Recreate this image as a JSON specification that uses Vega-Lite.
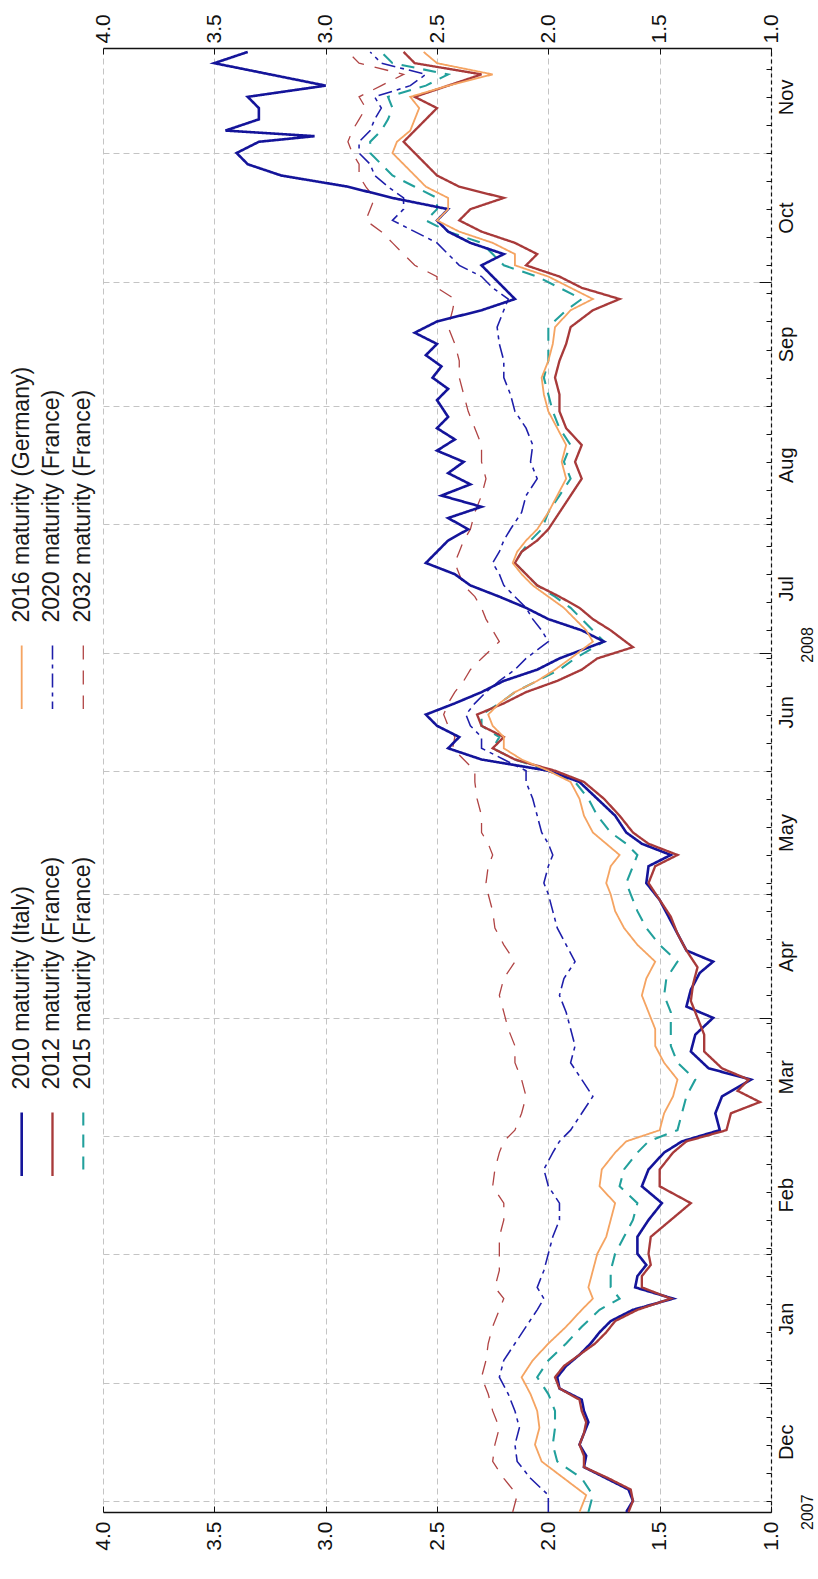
{
  "$schema": "https://vega.github.io/schema/vega-lite/v6.json",
  "padding": {"left": 0, "top": 13, "right": 0, "bottom": 0},
  "bounds": "flush",
  "spacing": 0,
  "config": {
    "font": "Liberation Sans",
    "view": {"stroke": null},
    "axis": {"labelFont": "Liberation Sans", "labelColor": "#111", "tickColor": "#111", "domainColor": "#111", "title": null}
  },
  "datasets": {
    "keys": [
      {"s": "I", "name": "2010 maturity (Italy)", "g": "lower", "slot": "1"},
      {"s": "F12", "name": "2012 maturity (France)", "g": "lower", "slot": "2"},
      {"s": "F15", "name": "2015 maturity (France)", "g": "lower", "slot": "3"},
      {"s": "G16", "name": "2016 maturity (Germany)", "g": "upper", "slot": "1"},
      {"s": "F20", "name": "2020 maturity (France)", "g": "upper", "slot": "2"},
      {"s": "F32", "name": "2032 maturity (France)", "g": "upper", "slot": "3"}
    ],
    "yields": [
      {"t":0,"s":"I","v":1.65},{"t":2,"s":"I","v":1.62},{"t":4,"s":"I","v":1.64},{"t":6,"s":"I","v":1.74},{"t":8,"s":"I","v":1.84},{"t":10,"s":"I","v":1.83},{"t":12,"s":"I","v":1.86},{"t":14,"s":"I","v":1.84},{"t":16,"s":"I","v":1.82},{"t":18,"s":"I","v":1.84},{"t":20,"s":"I","v":1.85},{"t":22,"s":"I","v":1.95},{"t":24,"s":"I","v":1.96},{"t":26,"s":"I","v":1.92},{"t":28,"s":"I","v":1.86},{"t":30,"s":"I","v":1.81},{"t":32,"s":"I","v":1.77},{"t":34,"s":"I","v":1.72},{"t":36,"s":"I","v":1.62},{"t":38,"s":"I","v":1.44},{"t":40,"s":"I","v":1.61},{"t":42,"s":"I","v":1.6},{"t":44,"s":"I","v":1.56},{"t":46,"s":"I","v":1.6},{"t":49,"s":"I","v":1.6},{"t":52,"s":"I","v":1.55},{"t":55,"s":"I","v":1.49},{"t":58,"s":"I","v":1.58},{"t":61,"s":"I","v":1.55},{"t":64,"s":"I","v":1.48},{"t":66,"s":"I","v":1.4},{"t":68,"s":"I","v":1.23},{"t":71,"s":"I","v":1.25},{"t":74,"s":"I","v":1.22},{"t":77,"s":"I","v":1.09},{"t":79,"s":"I","v":1.28},{"t":82,"s":"I","v":1.36},{"t":85,"s":"I","v":1.34},{"t":88,"s":"I","v":1.26},{"t":90,"s":"I","v":1.38},{"t":93,"s":"I","v":1.36},{"t":96,"s":"I","v":1.32},{"t":98,"s":"I","v":1.26},{"t":100,"s":"I","v":1.38},{"t":103,"s":"I","v":1.42},{"t":106,"s":"I","v":1.46},{"t":109,"s":"I","v":1.5},{"t":112,"s":"I","v":1.56},{"t":115,"s":"I","v":1.55},{"t":117,"s":"I","v":1.45},{"t":119,"s":"I","v":1.58},{"t":121,"s":"I","v":1.65},{"t":124,"s":"I","v":1.7},{"t":127,"s":"I","v":1.78},{"t":130,"s":"I","v":1.86},{"t":132,"s":"I","v":2.0},{"t":134,"s":"I","v":2.3},{"t":136,"s":"I","v":2.45},{"t":138,"s":"I","v":2.4},{"t":140,"s":"I","v":2.5},{"t":142,"s":"I","v":2.55},{"t":144,"s":"I","v":2.42},{"t":146,"s":"I","v":2.3},{"t":148,"s":"I","v":2.2},{"t":150,"s":"I","v":2.05},{"t":152,"s":"I","v":1.95},{"t":155,"s":"I","v":1.75},{"t":157,"s":"I","v":1.85},{"t":159,"s":"I","v":2.0},{"t":161,"s":"I","v":2.1},{"t":163,"s":"I","v":2.22},{"t":165,"s":"I","v":2.35},{"t":167,"s":"I","v":2.42},{"t":169,"s":"I","v":2.55},{"t":171,"s":"I","v":2.5},{"t":173,"s":"I","v":2.45},{"t":175,"s":"I","v":2.36},{"t":177,"s":"I","v":2.45},{"t":179,"s":"I","v":2.3},{"t":181,"s":"I","v":2.48},{"t":183,"s":"I","v":2.35},{"t":185,"s":"I","v":2.45},{"t":187,"s":"I","v":2.38},{"t":189,"s":"I","v":2.5},{"t":191,"s":"I","v":2.42},{"t":193,"s":"I","v":2.5},{"t":195,"s":"I","v":2.45},{"t":198,"s":"I","v":2.5},{"t":200,"s":"I","v":2.45},{"t":202,"s":"I","v":2.52},{"t":204,"s":"I","v":2.48},{"t":206,"s":"I","v":2.55},{"t":208,"s":"I","v":2.5},{"t":210,"s":"I","v":2.6},{"t":212,"s":"I","v":2.5},{"t":214,"s":"I","v":2.3},{"t":216,"s":"I","v":2.15},{"t":218,"s":"I","v":2.2},{"t":220,"s":"I","v":2.25},{"t":222,"s":"I","v":2.3},{"t":224,"s":"I","v":2.2},{"t":226,"s":"I","v":2.35},{"t":228,"s":"I","v":2.45},{"t":230,"s":"I","v":2.5},{"t":232,"s":"I","v":2.45},{"t":234,"s":"I","v":2.7},{"t":236,"s":"I","v":2.9},{"t":238,"s":"I","v":3.2},{"t":240,"s":"I","v":3.35},{"t":242,"s":"I","v":3.4},{"t":244,"s":"I","v":3.3},{"t":245,"s":"I","v":3.05},{"t":246,"s":"I","v":3.45},{"t":248,"s":"I","v":3.3},{"t":250,"s":"I","v":3.3},{"t":252,"s":"I","v":3.35},{"t":254,"s":"I","v":3.0},{"t":256,"s":"I","v":3.25},{"t":258,"s":"I","v":3.5},{"t":260,"s":"I","v":3.35},

      {"t":0,"s":"F12","v":1.64},{"t":2,"s":"F12","v":1.62},{"t":4,"s":"F12","v":1.63},{"t":6,"s":"F12","v":1.73},{"t":8,"s":"F12","v":1.84},{"t":10,"s":"F12","v":1.84},{"t":12,"s":"F12","v":1.86},{"t":14,"s":"F12","v":1.84},{"t":16,"s":"F12","v":1.83},{"t":18,"s":"F12","v":1.85},{"t":20,"s":"F12","v":1.86},{"t":22,"s":"F12","v":1.95},{"t":24,"s":"F12","v":1.97},{"t":26,"s":"F12","v":1.93},{"t":28,"s":"F12","v":1.86},{"t":30,"s":"F12","v":1.79},{"t":32,"s":"F12","v":1.74},{"t":34,"s":"F12","v":1.7},{"t":36,"s":"F12","v":1.6},{"t":38,"s":"F12","v":1.45},{"t":40,"s":"F12","v":1.58},{"t":42,"s":"F12","v":1.58},{"t":44,"s":"F12","v":1.54},{"t":46,"s":"F12","v":1.55},{"t":49,"s":"F12","v":1.54},{"t":52,"s":"F12","v":1.45},{"t":55,"s":"F12","v":1.36},{"t":58,"s":"F12","v":1.5},{"t":61,"s":"F12","v":1.5},{"t":64,"s":"F12","v":1.44},{"t":66,"s":"F12","v":1.38},{"t":68,"s":"F12","v":1.2},{"t":71,"s":"F12","v":1.18},{"t":73,"s":"F12","v":1.05},{"t":75,"s":"F12","v":1.15},{"t":77,"s":"F12","v":1.1},{"t":79,"s":"F12","v":1.22},{"t":82,"s":"F12","v":1.3},{"t":85,"s":"F12","v":1.3},{"t":88,"s":"F12","v":1.33},{"t":91,"s":"F12","v":1.36},{"t":94,"s":"F12","v":1.35},{"t":97,"s":"F12","v":1.33},{"t":100,"s":"F12","v":1.38},{"t":103,"s":"F12","v":1.42},{"t":106,"s":"F12","v":1.45},{"t":109,"s":"F12","v":1.5},{"t":112,"s":"F12","v":1.55},{"t":115,"s":"F12","v":1.52},{"t":117,"s":"F12","v":1.42},{"t":119,"s":"F12","v":1.55},{"t":121,"s":"F12","v":1.62},{"t":124,"s":"F12","v":1.68},{"t":127,"s":"F12","v":1.75},{"t":130,"s":"F12","v":1.84},{"t":132,"s":"F12","v":1.97},{"t":134,"s":"F12","v":2.15},{"t":136,"s":"F12","v":2.25},{"t":138,"s":"F12","v":2.2},{"t":140,"s":"F12","v":2.3},{"t":142,"s":"F12","v":2.32},{"t":144,"s":"F12","v":2.2},{"t":146,"s":"F12","v":2.1},{"t":148,"s":"F12","v":1.96},{"t":150,"s":"F12","v":1.85},{"t":152,"s":"F12","v":1.78},{"t":154,"s":"F12","v":1.62},{"t":157,"s":"F12","v":1.72},{"t":159,"s":"F12","v":1.8},{"t":161,"s":"F12","v":1.86},{"t":163,"s":"F12","v":1.95},{"t":165,"s":"F12","v":2.05},{"t":167,"s":"F12","v":2.1},{"t":169,"s":"F12","v":2.15},{"t":171,"s":"F12","v":2.12},{"t":173,"s":"F12","v":2.05},{"t":175,"s":"F12","v":2.0},{"t":178,"s":"F12","v":1.95},{"t":181,"s":"F12","v":1.9},{"t":184,"s":"F12","v":1.85},{"t":187,"s":"F12","v":1.88},{"t":190,"s":"F12","v":1.85},{"t":193,"s":"F12","v":1.92},{"t":196,"s":"F12","v":1.95},{"t":199,"s":"F12","v":1.95},{"t":202,"s":"F12","v":1.97},{"t":205,"s":"F12","v":1.95},{"t":208,"s":"F12","v":1.92},{"t":211,"s":"F12","v":1.9},{"t":214,"s":"F12","v":1.8},{"t":216,"s":"F12","v":1.68},{"t":218,"s":"F12","v":1.85},{"t":220,"s":"F12","v":1.95},{"t":222,"s":"F12","v":2.1},{"t":224,"s":"F12","v":2.05},{"t":226,"s":"F12","v":2.15},{"t":228,"s":"F12","v":2.3},{"t":230,"s":"F12","v":2.4},{"t":232,"s":"F12","v":2.35},{"t":234,"s":"F12","v":2.2},{"t":236,"s":"F12","v":2.4},{"t":238,"s":"F12","v":2.5},{"t":240,"s":"F12","v":2.55},{"t":242,"s":"F12","v":2.6},{"t":244,"s":"F12","v":2.65},{"t":246,"s":"F12","v":2.6},{"t":248,"s":"F12","v":2.55},{"t":250,"s":"F12","v":2.5},{"t":252,"s":"F12","v":2.6},{"t":254,"s":"F12","v":2.45},{"t":256,"s":"F12","v":2.3},{"t":258,"s":"F12","v":2.6},{"t":260,"s":"F12","v":2.65},

      {"t":0,"s":"F15","v":1.82},{"t":3,"s":"F15","v":1.8},{"t":6,"s":"F15","v":1.85},{"t":9,"s":"F15","v":1.96},{"t":12,"s":"F15","v":1.98},{"t":15,"s":"F15","v":1.97},{"t":18,"s":"F15","v":1.97},{"t":21,"s":"F15","v":2.0},{"t":24,"s":"F15","v":2.05},{"t":27,"s":"F15","v":2.0},{"t":30,"s":"F15","v":1.92},{"t":33,"s":"F15","v":1.85},{"t":36,"s":"F15","v":1.77},{"t":38,"s":"F15","v":1.68},{"t":40,"s":"F15","v":1.72},{"t":43,"s":"F15","v":1.72},{"t":46,"s":"F15","v":1.7},{"t":49,"s":"F15","v":1.66},{"t":52,"s":"F15","v":1.62},{"t":55,"s":"F15","v":1.6},{"t":58,"s":"F15","v":1.68},{"t":61,"s":"F15","v":1.66},{"t":64,"s":"F15","v":1.6},{"t":66,"s":"F15","v":1.55},{"t":68,"s":"F15","v":1.42},{"t":71,"s":"F15","v":1.4},{"t":74,"s":"F15","v":1.38},{"t":77,"s":"F15","v":1.34},{"t":80,"s":"F15","v":1.42},{"t":83,"s":"F15","v":1.45},{"t":86,"s":"F15","v":1.45},{"t":89,"s":"F15","v":1.45},{"t":92,"s":"F15","v":1.48},{"t":95,"s":"F15","v":1.47},{"t":98,"s":"F15","v":1.42},{"t":101,"s":"F15","v":1.5},{"t":104,"s":"F15","v":1.56},{"t":107,"s":"F15","v":1.6},{"t":110,"s":"F15","v":1.63},{"t":112,"s":"F15","v":1.65},{"t":115,"s":"F15","v":1.62},{"t":117,"s":"F15","v":1.6},{"t":119,"s":"F15","v":1.65},{"t":121,"s":"F15","v":1.72},{"t":124,"s":"F15","v":1.78},{"t":127,"s":"F15","v":1.82},{"t":130,"s":"F15","v":1.88},{"t":132,"s":"F15","v":2.0},{"t":134,"s":"F15","v":2.15},{"t":136,"s":"F15","v":2.25},{"t":138,"s":"F15","v":2.22},{"t":140,"s":"F15","v":2.3},{"t":142,"s":"F15","v":2.3},{"t":144,"s":"F15","v":2.22},{"t":146,"s":"F15","v":2.15},{"t":148,"s":"F15","v":2.05},{"t":150,"s":"F15","v":1.95},{"t":152,"s":"F15","v":1.88},{"t":155,"s":"F15","v":1.75},{"t":157,"s":"F15","v":1.8},{"t":159,"s":"F15","v":1.85},{"t":161,"s":"F15","v":1.9},{"t":163,"s":"F15","v":1.97},{"t":165,"s":"F15","v":2.05},{"t":167,"s":"F15","v":2.1},{"t":169,"s":"F15","v":2.15},{"t":171,"s":"F15","v":2.12},{"t":173,"s":"F15","v":2.08},{"t":175,"s":"F15","v":2.03},{"t":178,"s":"F15","v":2.0},{"t":181,"s":"F15","v":1.95},{"t":184,"s":"F15","v":1.9},{"t":187,"s":"F15","v":1.93},{"t":190,"s":"F15","v":1.9},{"t":193,"s":"F15","v":1.95},{"t":196,"s":"F15","v":1.98},{"t":199,"s":"F15","v":2.0},{"t":202,"s":"F15","v":2.02},{"t":205,"s":"F15","v":2.0},{"t":208,"s":"F15","v":2.0},{"t":211,"s":"F15","v":2.0},{"t":214,"s":"F15","v":1.92},{"t":216,"s":"F15","v":1.85},{"t":218,"s":"F15","v":1.95},{"t":220,"s":"F15","v":2.05},{"t":222,"s":"F15","v":2.2},{"t":224,"s":"F15","v":2.25},{"t":226,"s":"F15","v":2.3},{"t":228,"s":"F15","v":2.45},{"t":230,"s":"F15","v":2.55},{"t":232,"s":"F15","v":2.5},{"t":234,"s":"F15","v":2.5},{"t":236,"s":"F15","v":2.6},{"t":238,"s":"F15","v":2.7},{"t":240,"s":"F15","v":2.75},{"t":242,"s":"F15","v":2.8},{"t":244,"s":"F15","v":2.8},{"t":246,"s":"F15","v":2.75},{"t":248,"s":"F15","v":2.72},{"t":250,"s":"F15","v":2.7},{"t":252,"s":"F15","v":2.72},{"t":254,"s":"F15","v":2.55},{"t":256,"s":"F15","v":2.45},{"t":258,"s":"F15","v":2.7},{"t":260,"s":"F15","v":2.75},

      {"t":0,"s":"G16","v":1.86},{"t":3,"s":"G16","v":1.83},{"t":6,"s":"G16","v":1.93},{"t":9,"s":"G16","v":2.03},{"t":12,"s":"G16","v":2.06},{"t":15,"s":"G16","v":2.04},{"t":18,"s":"G16","v":2.05},{"t":21,"s":"G16","v":2.08},{"t":24,"s":"G16","v":2.12},{"t":27,"s":"G16","v":2.07},{"t":30,"s":"G16","v":2.0},{"t":33,"s":"G16","v":1.92},{"t":36,"s":"G16","v":1.85},{"t":38,"s":"G16","v":1.8},{"t":40,"s":"G16","v":1.82},{"t":43,"s":"G16","v":1.8},{"t":46,"s":"G16","v":1.78},{"t":49,"s":"G16","v":1.74},{"t":52,"s":"G16","v":1.72},{"t":55,"s":"G16","v":1.7},{"t":58,"s":"G16","v":1.77},{"t":61,"s":"G16","v":1.76},{"t":64,"s":"G16","v":1.7},{"t":66,"s":"G16","v":1.65},{"t":68,"s":"G16","v":1.5},{"t":71,"s":"G16","v":1.48},{"t":74,"s":"G16","v":1.44},{"t":77,"s":"G16","v":1.42},{"t":80,"s":"G16","v":1.48},{"t":83,"s":"G16","v":1.52},{"t":86,"s":"G16","v":1.52},{"t":89,"s":"G16","v":1.55},{"t":92,"s":"G16","v":1.58},{"t":95,"s":"G16","v":1.56},{"t":98,"s":"G16","v":1.52},{"t":101,"s":"G16","v":1.6},{"t":104,"s":"G16","v":1.66},{"t":107,"s":"G16","v":1.7},{"t":110,"s":"G16","v":1.72},{"t":112,"s":"G16","v":1.74},{"t":115,"s":"G16","v":1.72},{"t":117,"s":"G16","v":1.68},{"t":119,"s":"G16","v":1.74},{"t":121,"s":"G16","v":1.8},{"t":124,"s":"G16","v":1.84},{"t":127,"s":"G16","v":1.86},{"t":130,"s":"G16","v":1.9},{"t":132,"s":"G16","v":2.0},{"t":134,"s":"G16","v":2.12},{"t":136,"s":"G16","v":2.2},{"t":138,"s":"G16","v":2.2},{"t":140,"s":"G16","v":2.25},{"t":142,"s":"G16","v":2.27},{"t":144,"s":"G16","v":2.22},{"t":146,"s":"G16","v":2.15},{"t":148,"s":"G16","v":2.05},{"t":150,"s":"G16","v":1.97},{"t":152,"s":"G16","v":1.9},{"t":155,"s":"G16","v":1.8},{"t":157,"s":"G16","v":1.83},{"t":159,"s":"G16","v":1.88},{"t":161,"s":"G16","v":1.93},{"t":163,"s":"G16","v":2.0},{"t":165,"s":"G16","v":2.07},{"t":167,"s":"G16","v":2.12},{"t":169,"s":"G16","v":2.16},{"t":171,"s":"G16","v":2.14},{"t":173,"s":"G16","v":2.1},{"t":175,"s":"G16","v":2.05},{"t":178,"s":"G16","v":2.0},{"t":181,"s":"G16","v":1.96},{"t":184,"s":"G16","v":1.92},{"t":187,"s":"G16","v":1.94},{"t":190,"s":"G16","v":1.92},{"t":193,"s":"G16","v":1.96},{"t":196,"s":"G16","v":2.0},{"t":199,"s":"G16","v":2.02},{"t":202,"s":"G16","v":2.03},{"t":205,"s":"G16","v":2.0},{"t":208,"s":"G16","v":1.98},{"t":211,"s":"G16","v":1.97},{"t":214,"s":"G16","v":1.9},{"t":216,"s":"G16","v":1.8},{"t":218,"s":"G16","v":1.9},{"t":220,"s":"G16","v":2.0},{"t":222,"s":"G16","v":2.15},{"t":224,"s":"G16","v":2.15},{"t":226,"s":"G16","v":2.25},{"t":228,"s":"G16","v":2.4},{"t":230,"s":"G16","v":2.5},{"t":232,"s":"G16","v":2.45},{"t":234,"s":"G16","v":2.45},{"t":236,"s":"G16","v":2.55},{"t":238,"s":"G16","v":2.6},{"t":240,"s":"G16","v":2.65},{"t":242,"s":"G16","v":2.7},{"t":244,"s":"G16","v":2.68},{"t":246,"s":"G16","v":2.62},{"t":248,"s":"G16","v":2.6},{"t":250,"s":"G16","v":2.58},{"t":252,"s":"G16","v":2.62},{"t":254,"s":"G16","v":2.45},{"t":256,"s":"G16","v":2.25},{"t":258,"s":"G16","v":2.5},{"t":260,"s":"G16","v":2.56},

      {"t":0,"s":"F20","v":2.0},{"t":3,"s":"F20","v":2.0},{"t":6,"s":"F20","v":2.08},{"t":9,"s":"F20","v":2.14},{"t":12,"s":"F20","v":2.15},{"t":15,"s":"F20","v":2.13},{"t":18,"s":"F20","v":2.15},{"t":21,"s":"F20","v":2.18},{"t":24,"s":"F20","v":2.22},{"t":27,"s":"F20","v":2.2},{"t":30,"s":"F20","v":2.15},{"t":33,"s":"F20","v":2.1},{"t":36,"s":"F20","v":2.05},{"t":38,"s":"F20","v":2.02},{"t":40,"s":"F20","v":2.05},{"t":43,"s":"F20","v":2.02},{"t":46,"s":"F20","v":2.0},{"t":49,"s":"F20","v":1.98},{"t":52,"s":"F20","v":1.95},{"t":55,"s":"F20","v":1.95},{"t":58,"s":"F20","v":2.0},{"t":61,"s":"F20","v":2.02},{"t":64,"s":"F20","v":1.98},{"t":66,"s":"F20","v":1.95},{"t":68,"s":"F20","v":1.9},{"t":71,"s":"F20","v":1.85},{"t":74,"s":"F20","v":1.8},{"t":77,"s":"F20","v":1.85},{"t":80,"s":"F20","v":1.9},{"t":83,"s":"F20","v":1.88},{"t":86,"s":"F20","v":1.9},{"t":89,"s":"F20","v":1.92},{"t":92,"s":"F20","v":1.95},{"t":95,"s":"F20","v":1.93},{"t":98,"s":"F20","v":1.88},{"t":101,"s":"F20","v":1.92},{"t":104,"s":"F20","v":1.96},{"t":107,"s":"F20","v":1.98},{"t":110,"s":"F20","v":2.0},{"t":112,"s":"F20","v":2.02},{"t":115,"s":"F20","v":2.0},{"t":117,"s":"F20","v":1.98},{"t":119,"s":"F20","v":2.0},{"t":121,"s":"F20","v":2.03},{"t":124,"s":"F20","v":2.05},{"t":127,"s":"F20","v":2.07},{"t":130,"s":"F20","v":2.1},{"t":132,"s":"F20","v":2.1},{"t":134,"s":"F20","v":2.2},{"t":136,"s":"F20","v":2.3},{"t":138,"s":"F20","v":2.3},{"t":140,"s":"F20","v":2.35},{"t":142,"s":"F20","v":2.37},{"t":144,"s":"F20","v":2.33},{"t":146,"s":"F20","v":2.28},{"t":148,"s":"F20","v":2.22},{"t":150,"s":"F20","v":2.15},{"t":152,"s":"F20","v":2.1},{"t":155,"s":"F20","v":2.0},{"t":157,"s":"F20","v":2.03},{"t":159,"s":"F20","v":2.07},{"t":161,"s":"F20","v":2.1},{"t":163,"s":"F20","v":2.15},{"t":165,"s":"F20","v":2.2},{"t":167,"s":"F20","v":2.22},{"t":169,"s":"F20","v":2.25},{"t":171,"s":"F20","v":2.22},{"t":173,"s":"F20","v":2.2},{"t":175,"s":"F20","v":2.17},{"t":178,"s":"F20","v":2.12},{"t":181,"s":"F20","v":2.1},{"t":184,"s":"F20","v":2.05},{"t":187,"s":"F20","v":2.08},{"t":190,"s":"F20","v":2.07},{"t":193,"s":"F20","v":2.1},{"t":196,"s":"F20","v":2.15},{"t":199,"s":"F20","v":2.17},{"t":202,"s":"F20","v":2.2},{"t":205,"s":"F20","v":2.2},{"t":208,"s":"F20","v":2.22},{"t":211,"s":"F20","v":2.23},{"t":214,"s":"F20","v":2.2},{"t":216,"s":"F20","v":2.18},{"t":218,"s":"F20","v":2.25},{"t":220,"s":"F20","v":2.3},{"t":222,"s":"F20","v":2.4},{"t":224,"s":"F20","v":2.45},{"t":226,"s":"F20","v":2.5},{"t":228,"s":"F20","v":2.6},{"t":230,"s":"F20","v":2.7},{"t":232,"s":"F20","v":2.65},{"t":234,"s":"F20","v":2.65},{"t":236,"s":"F20","v":2.72},{"t":238,"s":"F20","v":2.78},{"t":240,"s":"F20","v":2.8},{"t":242,"s":"F20","v":2.85},{"t":244,"s":"F20","v":2.85},{"t":246,"s":"F20","v":2.8},{"t":248,"s":"F20","v":2.78},{"t":250,"s":"F20","v":2.75},{"t":252,"s":"F20","v":2.78},{"t":254,"s":"F20","v":2.62},{"t":256,"s":"F20","v":2.55},{"t":258,"s":"F20","v":2.75},{"t":260,"s":"F20","v":2.8},

      {"t":0,"s":"F32","v":2.16},{"t":3,"s":"F32","v":2.14},{"t":6,"s":"F32","v":2.2},{"t":9,"s":"F32","v":2.25},{"t":12,"s":"F32","v":2.24},{"t":15,"s":"F32","v":2.22},{"t":18,"s":"F32","v":2.25},{"t":21,"s":"F32","v":2.27},{"t":24,"s":"F32","v":2.3},{"t":27,"s":"F32","v":2.28},{"t":30,"s":"F32","v":2.27},{"t":33,"s":"F32","v":2.25},{"t":36,"s":"F32","v":2.22},{"t":38,"s":"F32","v":2.2},{"t":40,"s":"F32","v":2.24},{"t":43,"s":"F32","v":2.22},{"t":46,"s":"F32","v":2.22},{"t":49,"s":"F32","v":2.22},{"t":52,"s":"F32","v":2.2},{"t":55,"s":"F32","v":2.2},{"t":58,"s":"F32","v":2.25},{"t":61,"s":"F32","v":2.24},{"t":64,"s":"F32","v":2.22},{"t":66,"s":"F32","v":2.2},{"t":68,"s":"F32","v":2.15},{"t":71,"s":"F32","v":2.12},{"t":74,"s":"F32","v":2.1},{"t":77,"s":"F32","v":2.12},{"t":80,"s":"F32","v":2.15},{"t":83,"s":"F32","v":2.15},{"t":86,"s":"F32","v":2.18},{"t":89,"s":"F32","v":2.2},{"t":92,"s":"F32","v":2.22},{"t":95,"s":"F32","v":2.2},{"t":98,"s":"F32","v":2.15},{"t":101,"s":"F32","v":2.2},{"t":104,"s":"F32","v":2.24},{"t":107,"s":"F32","v":2.25},{"t":110,"s":"F32","v":2.27},{"t":112,"s":"F32","v":2.28},{"t":115,"s":"F32","v":2.27},{"t":117,"s":"F32","v":2.25},{"t":119,"s":"F32","v":2.27},{"t":121,"s":"F32","v":2.3},{"t":124,"s":"F32","v":2.3},{"t":127,"s":"F32","v":2.32},{"t":130,"s":"F32","v":2.33},{"t":132,"s":"F32","v":2.33},{"t":134,"s":"F32","v":2.38},{"t":136,"s":"F32","v":2.43},{"t":138,"s":"F32","v":2.42},{"t":140,"s":"F32","v":2.45},{"t":142,"s":"F32","v":2.47},{"t":144,"s":"F32","v":2.45},{"t":146,"s":"F32","v":2.42},{"t":148,"s":"F32","v":2.38},{"t":150,"s":"F32","v":2.35},{"t":152,"s":"F32","v":2.3},{"t":155,"s":"F32","v":2.22},{"t":157,"s":"F32","v":2.25},{"t":159,"s":"F32","v":2.28},{"t":161,"s":"F32","v":2.3},{"t":163,"s":"F32","v":2.33},{"t":165,"s":"F32","v":2.38},{"t":167,"s":"F32","v":2.4},{"t":169,"s":"F32","v":2.42},{"t":171,"s":"F32","v":2.4},{"t":173,"s":"F32","v":2.38},{"t":175,"s":"F32","v":2.35},{"t":178,"s":"F32","v":2.33},{"t":181,"s":"F32","v":2.3},{"t":184,"s":"F32","v":2.28},{"t":187,"s":"F32","v":2.3},{"t":190,"s":"F32","v":2.3},{"t":193,"s":"F32","v":2.33},{"t":196,"s":"F32","v":2.36},{"t":199,"s":"F32","v":2.38},{"t":202,"s":"F32","v":2.4},{"t":205,"s":"F32","v":2.4},{"t":208,"s":"F32","v":2.42},{"t":211,"s":"F32","v":2.45},{"t":214,"s":"F32","v":2.43},{"t":216,"s":"F32","v":2.42},{"t":218,"s":"F32","v":2.5},{"t":220,"s":"F32","v":2.5},{"t":222,"s":"F32","v":2.6},{"t":224,"s":"F32","v":2.65},{"t":226,"s":"F32","v":2.7},{"t":228,"s":"F32","v":2.75},{"t":230,"s":"F32","v":2.82},{"t":232,"s":"F32","v":2.8},{"t":234,"s":"F32","v":2.78},{"t":236,"s":"F32","v":2.82},{"t":238,"s":"F32","v":2.85},{"t":240,"s":"F32","v":2.85},{"t":242,"s":"F32","v":2.88},{"t":244,"s":"F32","v":2.9},{"t":246,"s":"F32","v":2.88},{"t":248,"s":"F32","v":2.85},{"t":250,"s":"F32","v":2.82},{"t":252,"s":"F32","v":2.85},{"t":254,"s":"F32","v":2.75},{"t":256,"s":"F32","v":2.65},{"t":258,"s":"F32","v":2.85},{"t":260,"s":"F32","v":2.9}
    ]
  },
  "hconcat": [
    {
      "width": 103,
      "height": 1464,
      "data": {"name": "keys"},
      "encoding": {
        "x": {"field": "slot", "type": "ordinal", "scale": {"type": "point", "domain": ["1", "2", "3"], "padding": 0.672, "align": 0.524}, "axis": null},
        "y": {"field": "g", "type": "nominal", "bandPosition": 0, "scale": {"type": "band", "domain": ["upper", "lower"], "paddingInner": 0.864, "paddingOuter": 1.421, "align": 0.64}, "axis": null}
      },
      "layer": [
        {
          "mark": {"type": "rule"},
          "encoding": {
            "y2": {"field": "g", "bandPosition": 1},
            "color": {"field": "s", "type": "nominal", "legend": null, "scale": {"domain": ["I", "F12", "F15", "G16", "F20", "F32"], "range": ["#14149a", "#a83a3a", "#22a09c", "#f5a462", "#1e1eaa", "#b04444"]}},
            "strokeDash": {"field": "s", "type": "nominal", "legend": null, "scale": {"domain": ["I", "F12", "F15", "G16", "F20", "F32"], "range": [[1, 0], [1, 0], [13, 9], [1, 0], [14, 5, 4, 5], [14, 11]]}},
            "strokeWidth": {"field": "s", "type": "nominal", "legend": null, "scale": {"domain": ["I", "F12", "F15", "G16", "F20", "F32"], "range": [2.6, 1.3, 2.4, 3, 2.4, 1.4]}}
          }
        },
        {
          "mark": {"type": "text", "angle": 270, "align": "left", "baseline": "middle", "dx": 23, "fontSize": 23, "color": "#1a1a1a"},
          "encoding": {"text": {"field": "name"}}
        }
      ]
    },
    {
      "width": 668,
      "height": 1464,
      "data": {"name": "yields"},
      "layer": [
        {
          "transform": [{"filter": "indexof(['F32', 'F20', 'F15'], datum.s) >= 0"}],
          "mark": {"type": "line", "strokeJoin": "miter"},
          "encoding": {
            "x": {"field": "v", "type": "quantitative", "scale": {"domain": [1, 4], "reverse": true, "nice": false, "zero": false},
              "axis": {"orient": "bottom", "values": [1, 1.5, 2, 2.5, 3, 3.5, 4], "format": ".1f", "labelAngle": 270, "labelAlign": "right", "labelBaseline": "middle", "labelFontSize": 21, "labelPadding": 15, "labelFlush": false, "labelOverlap": false, "tickSize": -6, "domainWidth": 1.3, "grid": true, "gridDash": [6, 4], "gridColor": "#c4c4c4", "gridWidth": 1}},
            "y": {"field": "t", "type": "quantitative", "scale": {"domain": [0, 260.7], "nice": false, "zero": false},
              "axis": {"orient": "right", "values": [2, 7, 12, 17, 22, 23, 27, 32, 37, 42, 46, 47, 52, 57, 62, 67, 72, 77, 82, 87, 88, 92, 97, 102, 107, 110, 112, 117, 122, 127, 132, 137, 142, 147, 152, 153, 157, 162, 167, 172, 176, 177, 182, 187, 192, 197, 202, 207, 212, 217, 219, 222, 227, 232, 237, 242, 247, 252, 257],
                "labels": false, "domainDash": [4, 3], "domainWidth": 1.2,
                "tickSize": {"condition": {"test": "indexof([23, 88, 153, 219], datum.value) >= 0", "value": -12}, "value": -5},
                "grid": true, "gridDash": [6, 4], "gridColor": "#c4c4c4", "gridWidth": 1,
                "gridOpacity": {"condition": {"test": "indexof([2, 23, 46, 67, 88, 110, 132, 153, 176, 197, 219, 242], datum.value) >= 0", "value": 1}, "value": 0}}},
            "color": {"field": "s", "type": "nominal", "legend": null, "scale": {"domain": ["I", "F12", "F15", "G16", "F20", "F32"], "range": ["#14149a", "#a83a3a", "#22a09c", "#f5a462", "#1e1eaa", "#b04444"]}},
            "strokeDash": {"field": "s", "type": "nominal", "legend": null, "scale": {"domain": ["I", "F12", "F15", "G16", "F20", "F32"], "range": [[1, 0], [1, 0], [13, 9], [1, 0], [14, 5, 4, 5], [14, 11]]}},
            "strokeWidth": {"field": "s", "type": "nominal", "legend": null, "scale": {"domain": ["I", "F12", "F15", "G16", "F20", "F32"], "range": [2.6, 1.3, 2.4, 3, 2.4, 1.4]}},
            "order": {"field": "t", "type": "quantitative"}
          }
        },
        {
          "transform": [{"filter": "indexof(['G16', 'F12', 'I'], datum.s) >= 0"}],
          "mark": {"type": "line", "strokeJoin": "miter"},
          "encoding": {
            "x": {"field": "v", "type": "quantitative", "scale": {"domain": [1, 4], "reverse": true, "nice": false, "zero": false},
              "axis": {"orient": "top", "values": [1, 1.5, 2, 2.5, 3, 3.5, 4], "format": ".1f", "labelAngle": 270, "labelAlign": "left", "labelBaseline": "middle", "labelFontSize": 21, "labelPadding": 11, "labelFlush": false, "labelOverlap": false, "tickSize": -6, "domainWidth": 1.3, "grid": false}},
            "y": {"field": "t", "type": "quantitative", "scale": {"domain": [0, 260.7], "nice": false, "zero": false},
              "axis": {"orient": "right", "values": [0.05, 12.5, 34.5, 56.5, 77.5, 99, 121, 142.5, 154.5, 164.5, 186.5, 208, 230.5, 252],
                "domain": false, "ticks": false, "tickSize": 0, "grid": false, "labelAngle": 270, "labelAlign": "center", "labelBaseline": "top",
                "labelOverlap": false, "labelFlush": false, "labelBound": false,
                "labelFontSize": {"condition": {"test": "datum.value == 0.05 || datum.value == 154.5", "value": 16}, "value": 20},
                "labelPadding": {"condition": {"test": "datum.value == 0.05 || datum.value == 154.5", "value": 28}, "value": 5},
                "labelExpr": "datum.value < 1 ? '2007' : datum.value < 20 ? 'Dec' : datum.value < 40 ? 'Jan' : datum.value < 60 ? 'Feb' : datum.value < 80 ? 'Mar' : datum.value < 110 ? 'Apr' : datum.value < 130 ? 'May' : datum.value < 150 ? 'Jun' : datum.value == 154.5 ? '2008' : datum.value < 170 ? 'Jul' : datum.value < 195 ? 'Aug' : datum.value < 215 ? 'Sep' : datum.value < 240 ? 'Oct' : 'Nov'"}},
            "color": {"field": "s", "type": "nominal", "legend": null, "scale": {"domain": ["I", "F12", "F15", "G16", "F20", "F32"], "range": ["#14149a", "#a83a3a", "#22a09c", "#f5a462", "#1e1eaa", "#b04444"]}},
            "strokeDash": {"field": "s", "type": "nominal", "legend": null, "scale": {"domain": ["I", "F12", "F15", "G16", "F20", "F32"], "range": [[1, 0], [1, 0], [13, 9], [1, 0], [14, 5, 4, 5], [14, 11]]}},
            "strokeWidth": {"field": "s", "type": "nominal", "legend": null, "scale": {"domain": ["I", "F12", "F15", "G16", "F20", "F32"], "range": [2.6, 1.3, 2.4, 3, 2.4, 1.4]}},
            "order": {"field": "t", "type": "quantitative"}
          }
        }
      ],
      "resolve": {"axis": {"x": "independent", "y": "independent"}}
    }
  ]
}
